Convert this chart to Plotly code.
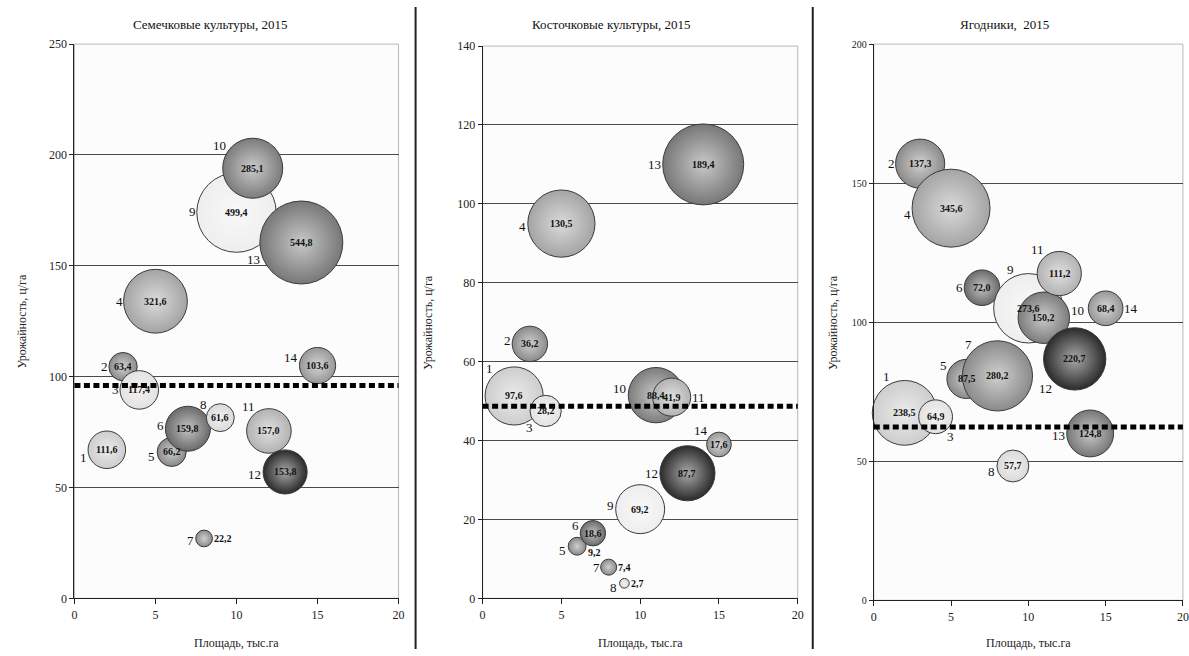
import math
import plotly.graph_objects as go

# ---------------- data ----------------
titles = ["Семечковые культуры, 2015", "Косточковые культуры, 2015", "Ягодники,  2015"]
x_title = "Площадь, тыс.га"
y_title = "Урожайность, ц/га"

ids = ["1", "2", "3", "4", "5", "6", "7", "8", "9", "10", "11", "12", "13", "14"]

p1_x = [2, 3, 4, 5, 6, 7, 8, 9, 10, 11, 12, 13, 14, 15]
p1_y = [67, 104.5, 94, 134, 66, 76.5, 27, 81.5, 174, 194, 75.5, 57, 160.5, 105]
p1_s = [111.6, 63.4, 117.4, 321.6, 66.2, 159.8, 22.2, 61.6, 499.4, 285.1, 157.0, 153.8, 544.8, 103.6]

p2_x = [2, 3, 4, 5, 6, 7, 8, 9, 10, 11, 12, 13, 14, 15]
p2_y = [51.3, 64.5, 47.5, 95, 13.2, 16.5, 7.9, 3.8, 22.6, 51.5, 51, 31.7, 110, 39]
p2_s = [97.6, 36.2, 28.2, 130.5, 9.2, 18.6, 7.4, 2.7, 69.2, 88.4, 41.9, 87.7, 189.4, 17.6]

p3_x = [2, 3, 4, 5, 6, 7, 8, 9, 10, 11, 12, 13, 14, 15]
p3_y = [67.4, 157, 66, 141, 79.6, 112.4, 80.7, 48.3, 105, 101.6, 117.5, 86.8, 60, 105]
p3_s = [238.5, 137.3, 64.9, 345.6, 87.5, 72.0, 280.2, 57.7, 273.6, 150.2, 111.2, 220.7, 124.8, 68.4]

averages = [96, 48.7, 62.3]
y_max = [250, 140, 200]
y_step = [50, 20, 50]
x_ticks = [0, 5, 10, 15, 20]

# ---------------- styles ----------------
colors = ['#cdcdcd', '#8a8a8a', '#e2e2e2', '#a4a4a4', '#888888', '#6a6a6a', '#8a8a8a',
          '#dadada', '#eeeeee', '#7c7c7c', '#b2b2b2', '#2a2a2a', '#777777', '#979797']


def lighten(hexc, f):
    r, g, b = int(hexc[1:3], 16), int(hexc[3:5], 16), int(hexc[5:7], 16)
    return '#%02x%02x%02x' % tuple(int(c + (255 - c) * f) for c in (r, g, b))


grad_colors = [lighten(c, 0.6) for c in colors]

# label directions (degrees, 0 = right, 90 = up); None = centred on the bubble
id_ang = [
    [197, 180, 180, 180, 194, 173, 190, 143, 178, 145, 130, 184, 200, 162],
    [131, 172, 226, 184, 197, 155, 180, 200, 173, 169, 0, 180, 180, 143],
    [117, 180, 306, 188, 149, 180, 133, 195, 115, 12, 133, 225, 183, 0],
]
val_ang = [
    [None] * 6 + [0] + [None] * 7,
    [None] * 4 + [341, None, 0, 0] + [None] * 6,
    [None] * 14,
]

W, H = 1189, 656


# target pixel positions -> paper fractions (compensating the measured render mapping)
def px_x(t):
    return (t - 2.6) / 0.992 / W


def px_y(t):
    return 1 - (t - 8) / 0.9765 / H


max_diam = [83, 81, 78]
x_dom = [[px_x(74), px_x(398)], [px_x(482), px_x(797)], [px_x(873), min(1.0, px_x(1182))]]
y_dom = [[px_y(598), px_y(45)], [px_y(598), px_y(47)], [px_y(600), px_y(45)]]
title_x = [210, 611, 1004]
ytitle_x = [22, 428, 832]
ytick_size = [12, 12, 10]

SERIF = "Liberation Serif, Times New Roman, DejaVu Serif, serif"


def place(ang, r, w, h, gap):
    if ang is None:
        return 0, 0
    a = math.radians(ang)
    ext = abs(math.cos(a)) * w / 2 + abs(math.sin(a)) * h / 2
    dist = r + gap + ext
    return dist * math.cos(a), dist * math.sin(a)


fig = go.Figure()
panels = [(p1_x, p1_y, p1_s), (p2_x, p2_y, p2_s), (p3_x, p3_y, p3_s)]
shapes = []
annotations = []

for k, (xs, ys, ss) in enumerate(panels):
    sfx = "" if k == 0 else str(k + 1)
    xa, ya = "x" + sfx, "y" + sfx
    smax = max(ss)
    sizeref = 2.0 * smax / (max_diam[k] ** 2)
    labels = [f"{v:.1f}".replace(".", ",") for v in ss]
    fig.add_trace(go.Scatter(
        x=xs, y=ys, mode="markers",
        marker=dict(size=ss, sizemode="area", sizeref=sizeref, color=colors,
                    gradient=dict(type="radial", color=grad_colors),
                    line=dict(color="#3a3a3a", width=1), opacity=1),
        xaxis=xa, yaxis=ya, showlegend=False, hoverinfo="skip", cliponaxis=False))

    for i in range(len(xs)):
        r = max_diam[k] / 2 * math.sqrt(ss[i] / smax)
        dx, dy = place(id_ang[k][i], r, 7 * len(ids[i]), 12, 1)
        annotations.append(dict(text=ids[i], x=xs[i], y=ys[i], xref=xa, yref=ya, showarrow=False,
                                xshift=dx, yshift=dy, xanchor="center", yanchor="middle",
                                font=dict(family=SERIF, size=13, color="#111")))
        dx, dy = place(val_ang[k][i], r, 5.5 * len(labels[i]), 10, 0)
        annotations.append(dict(text="<b>" + labels[i] + "</b>", x=xs[i], y=ys[i], xref=xa, yref=ya,
                                showarrow=False, xshift=dx, yshift=dy, xanchor="center", yanchor="middle",
                                font=dict(family=SERIF, size=10, color="#111")))

    fig.update_layout({
        "xaxis" + sfx: dict(domain=x_dom[k], range=[0, 20], tickvals=x_ticks, anchor=ya,
                            showgrid=False, zeroline=False, showline=True, linecolor="#222", linewidth=1,
                            ticks="outside", ticklen=5, tickcolor="#222",
                            tickfont=dict(family=SERIF, size=12, color="#222")),
        "yaxis" + sfx: dict(domain=y_dom[k], range=[0, y_max[k]], dtick=y_step[k], anchor=xa,
                            showgrid=True, gridcolor="#4a4a4a", gridwidth=1, zeroline=False,
                            showline=True, linecolor="#222", linewidth=1,
                            ticks="outside", ticklen=4, tickcolor="#222",
                            tickfont=dict(family=SERIF, size=ytick_size[k], color="#222")),
    })
    shapes.append(dict(type="rect", xref=xa + " domain", yref=ya + " domain", x0=0, x1=1, y0=0, y1=1,
                       line=dict(color="#b8b8b8", width=1), layer="below"))
    shapes.append(dict(type="line", xref=xa + " domain", yref=ya, x0=0, x1=1,
                       y0=averages[k], y1=averages[k],
                       line=dict(color="black", width=5, dash="6px,3.5px"), layer="above"))
    annotations.append(dict(text=titles[k], xref="paper", yref="paper", x=px_x(title_x[k]), y=px_y(25),
                            showarrow=False, xanchor="center", yanchor="middle",
                            font=dict(family=SERIF, size=13, color="#111")))
    annotations.append(dict(text=x_title, xref="paper", yref="paper",
                            x=(x_dom[k][0] + x_dom[k][1]) / 2, y=px_y(643),
                            showarrow=False, xanchor="center", yanchor="middle",
                            font=dict(family=SERIF, size=12, color="#222")))
    annotations.append(dict(text=y_title, xref="paper", yref="paper",
                            x=px_x(ytitle_x[k]), y=(y_dom[k][0] + y_dom[k][1]) / 2, textangle=-90,
                            showarrow=False, xanchor="center", yanchor="middle",
                            font=dict(family=SERIF, size=12, color="#222")))

for px in [415, 812]:
    shapes.append(dict(type="line", xref="paper", yref="paper", x0=px_x(px), x1=px_x(px), y0=0, y1=1,
                       line=dict(color="#222", width=2)))

fig.update_layout(
    width=W, height=H,
    margin=dict(l=0, r=0, t=0, b=0),
    paper_bgcolor="white", plot_bgcolor="#fcfcfc",
    shapes=shapes, annotations=annotations,
    showlegend=False,
)

fig.write_html(
    "out.html",
    config={"displayModeBar": False},
    post_script="document.body.style.margin='0';document.body.style.overflow='hidden';",
)
